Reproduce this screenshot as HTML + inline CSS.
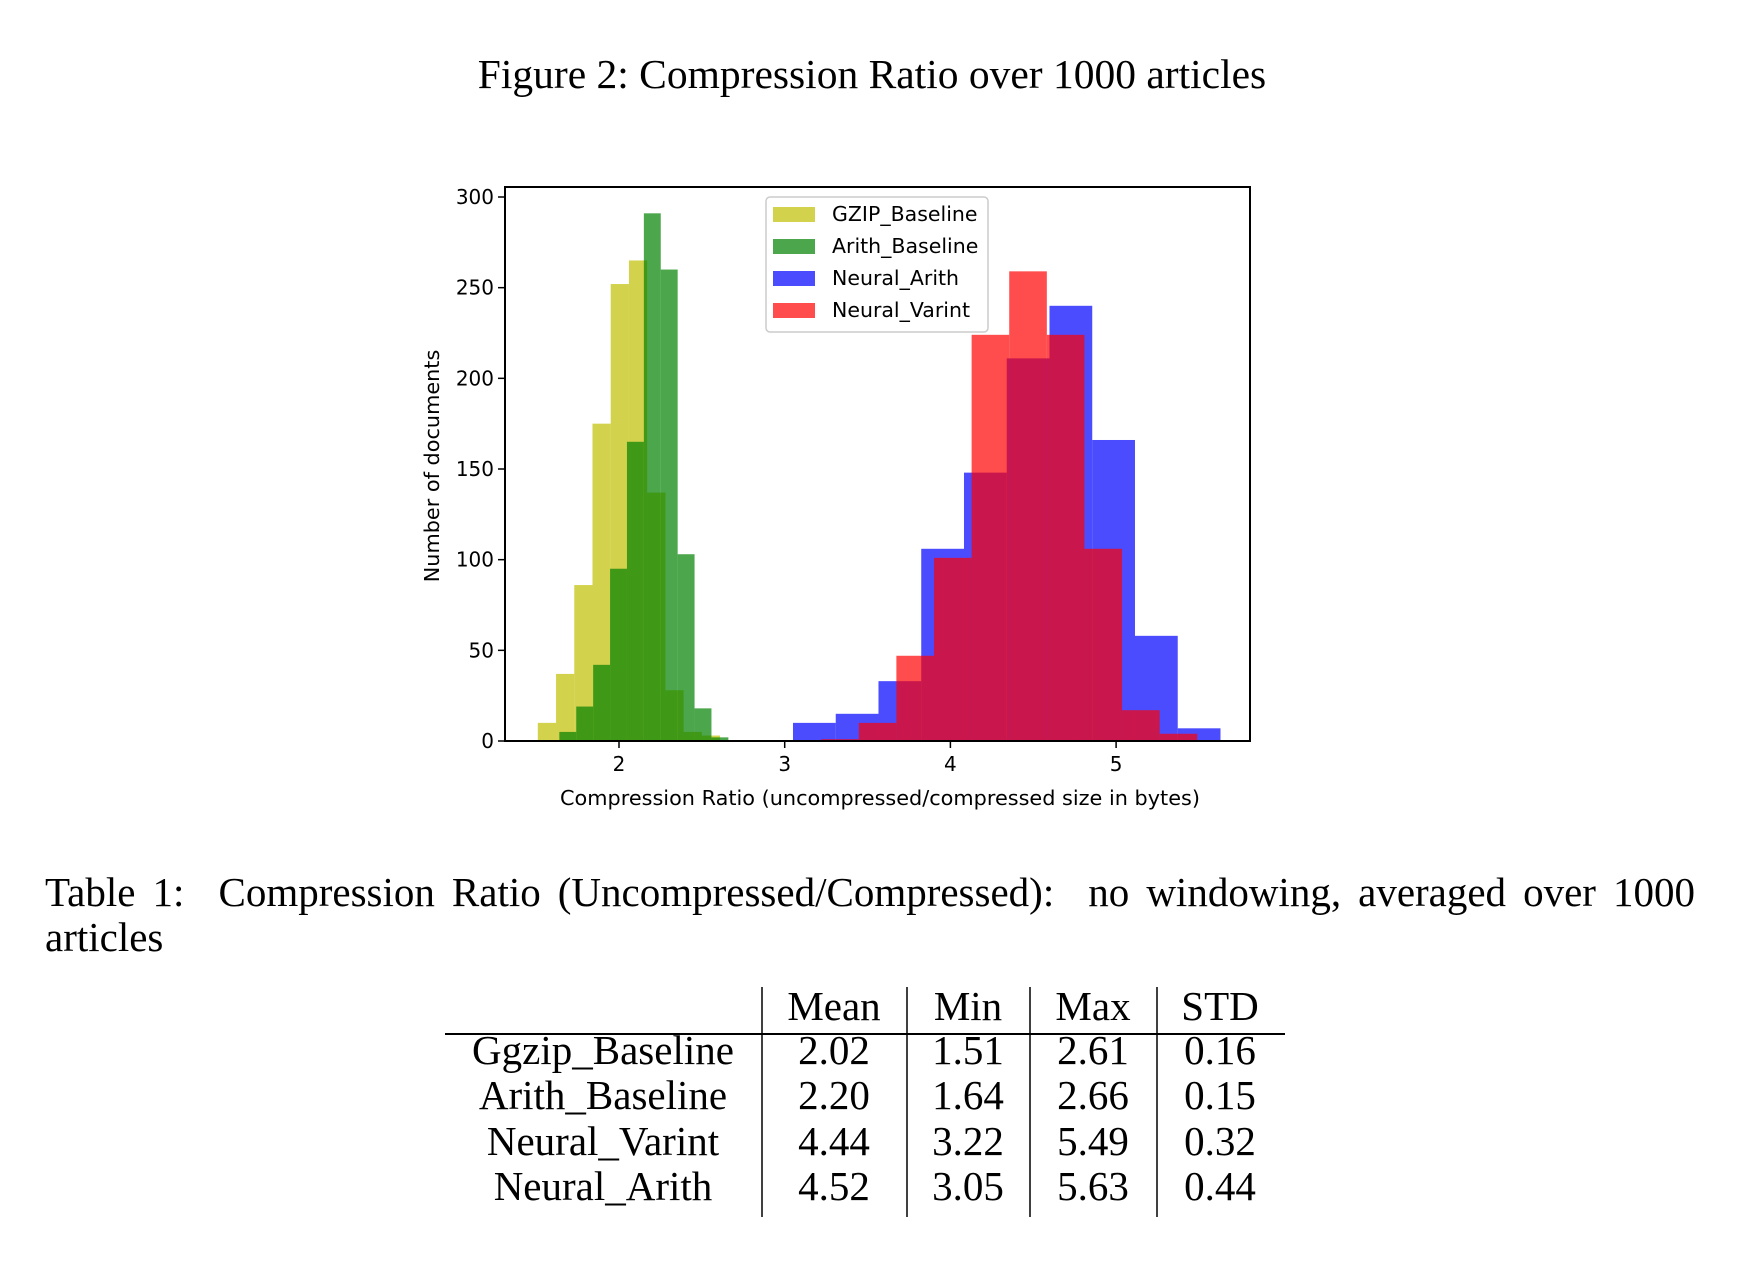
<!DOCTYPE html>
<html><head><meta charset="utf-8"><style>
html,body{margin:0;padding:0;background:#fff;}
body{width:1738px;height:1264px;position:relative;overflow:hidden;font-family:"Liberation Serif",serif;color:#000;}
.abs{position:absolute;}
#caption{left:45px;top:870px;width:1650px;font-size:41px;line-height:45px;text-align:justify;text-align-last:left;}
</style></head><body>
<div class="abs" style="left:0;width:1744px;top:50px;text-align:center;font-size:41.5px;">Figure 2: Compression Ratio over 1000 articles</div>
<svg class="abs" style="left:0;top:0" width="1738" height="860" id="chart"></svg>
<div class="abs" id="caption">Table 1: &nbsp;Compression Ratio (Uncompressed/Compressed): &nbsp;no windowing, averaged over 1000 articles</div>
<svg class="abs" style="left:-4px;top:977px" width="1738" height="260" font-family="Liberation Serif, serif" font-size="41">
<g text-anchor="middle">
<text x="838" y="43">Mean</text>
<text x="972" y="43">Min</text>
<text x="1097" y="43">Max</text>
<text x="1224" y="43">STD</text>
<g><text x="607" y="87">Ggzip_Baseline</text><text x="838" y="87">2.02</text><text x="972" y="87">1.51</text><text x="1097" y="87">2.61</text><text x="1224" y="87">0.16</text></g>
<g><text x="607" y="132">Arith_Baseline</text><text x="838" y="132">2.20</text><text x="972" y="132">1.64</text><text x="1097" y="132">2.66</text><text x="1224" y="132">0.15</text></g>
<g><text x="607" y="178">Neural_Varint</text><text x="838" y="178">4.44</text><text x="972" y="178">3.22</text><text x="1097" y="178">5.49</text><text x="1224" y="178">0.32</text></g>
<g><text x="607" y="223">Neural_Arith</text><text x="838" y="223">4.52</text><text x="972" y="223">3.05</text><text x="1097" y="223">5.63</text><text x="1224" y="223">0.44</text></g>
</g>
<line x1="449" y1="57" x2="1289" y2="57" stroke="#000" stroke-width="2"/>
<g stroke="#000" stroke-width="1.5">
<line x1="766" y1="10" x2="766" y2="240"/><line x1="911" y1="10" x2="911" y2="240"/>
<line x1="1034" y1="10" x2="1034" y2="240"/><line x1="1161" y1="10" x2="1161" y2="240"/>
</g>
</svg>
<script>
const gzipEdges=[1.51,1.62,1.73,1.84,1.95,2.06,2.17,2.28,2.39,2.50,2.61];
const gzipCounts=[10,37,86,175,252,265,137,28,5,3];
const arithEdges=[1.64,1.742,1.844,1.946,2.048,2.15,2.252,2.354,2.456,2.558,2.66];
const arithCounts=[5,19,42,95,165,291,260,103,18,2];
const neuralArithEdges=[3.05,3.308,3.566,3.824,4.082,4.34,4.598,4.856,5.114,5.372,5.63];
const neuralArithCounts=[10,15,33,106,148,211,240,166,58,7];
const varintEdges=[3.22,3.447,3.674,3.901,4.128,4.355,4.582,4.809,5.036,5.263,5.49];
const varintCounts=[1,10,47,101,224,259,224,106,17,4];
const xTicks=[2,3,4,5];
const yTicks=[0,50,100,150,200,250,300];
const seriesNames=["GZIP_Baseline","Arith_Baseline","Neural_Arith","Neural_Varint"];

const L=505,R=1250,T=187,B=741;
const X=v=>619+(v-2)*165.7;
const Y=v=>741-v*(544/300);
const NS="http://www.w3.org/2000/svg";
const svg=document.getElementById('chart');
function mk(tag,attrs,parent){const e=document.createElementNS(NS,tag);for(const k in attrs)e.setAttribute(k,attrs[k]);(parent||svg).appendChild(e);return e;}
const series=[[gzipEdges,gzipCounts,'#bfbf00','gzip'],[arithEdges,arithCounts,'#008000','arith-baseline'],[neuralArithEdges,neuralArithCounts,'#0000ff','neural-arith'],[varintEdges,varintCounts,'#ff0000','neural-varint']];
series.forEach(([ed,ct,col,nm])=>{
  const g=mk('g',{});
  
  
  ct.forEach((c,i)=>{
    const r=mk('rect',{x:X(ed[i]),y:Y(c),width:X(ed[i+1])-X(ed[i]),height:Y(0)-Y(c),fill:col,'fill-opacity':0.7},g);
    
    
  });
});
const frame=mk('rect',{x:L,y:T,width:R-L,height:B-T,fill:'none',stroke:'#000','stroke-width':2});


const font='DejaVu Sans, sans-serif';
xTicks.forEach(t=>{
  mk('line',{x1:X(t),x2:X(t),y1:B,y2:B+7,stroke:'#000','stroke-width':1.5});
  const tx=mk('text',{x:X(t),y:B+30,'text-anchor':'middle','font-family':font,'font-size':20});
  tx.textContent=t;
  
  
});
yTicks.forEach(t=>{
  mk('line',{x1:L-7,x2:L,y1:Y(t),y2:Y(t),stroke:'#000','stroke-width':1.5});
  const tx=mk('text',{x:L-11,y:Y(t)+7,'text-anchor':'end','font-family':font,'font-size':20});
  tx.textContent=t;
  
  
});
const xl=mk('text',{x:880,y:805,'text-anchor':'middle','font-family':font,'font-size':20.8});
xl.textContent='Compression Ratio (uncompressed/compressed size in bytes)';


const yl=mk('text',{x:0,y:0,'text-anchor':'middle','font-family':font,'font-size':20.8,transform:'translate(439,466) rotate(-90)'});
yl.textContent='Number of documents';


const lg=mk('g',{});


mk('rect',{x:766,y:197,width:222,height:135,rx:4,fill:'#fff','fill-opacity':0.8,stroke:'#ccc','stroke-width':1.5},lg);
const lcols=['#bfbf00','#008000','#0000ff','#ff0000'];
seriesNames.forEach((n,i)=>{
  const e=mk('g',{},lg);
  
  
  const cy=214+i*32;
  mk('rect',{x:773,y:cy-7,width:42,height:15,fill:lcols[i],'fill-opacity':0.7},e);
  const t=mk('text',{x:832,y:cy+7,'font-family':font,'font-size':20.5},e);
  t.textContent=n;
});
</script>
</body></html>
